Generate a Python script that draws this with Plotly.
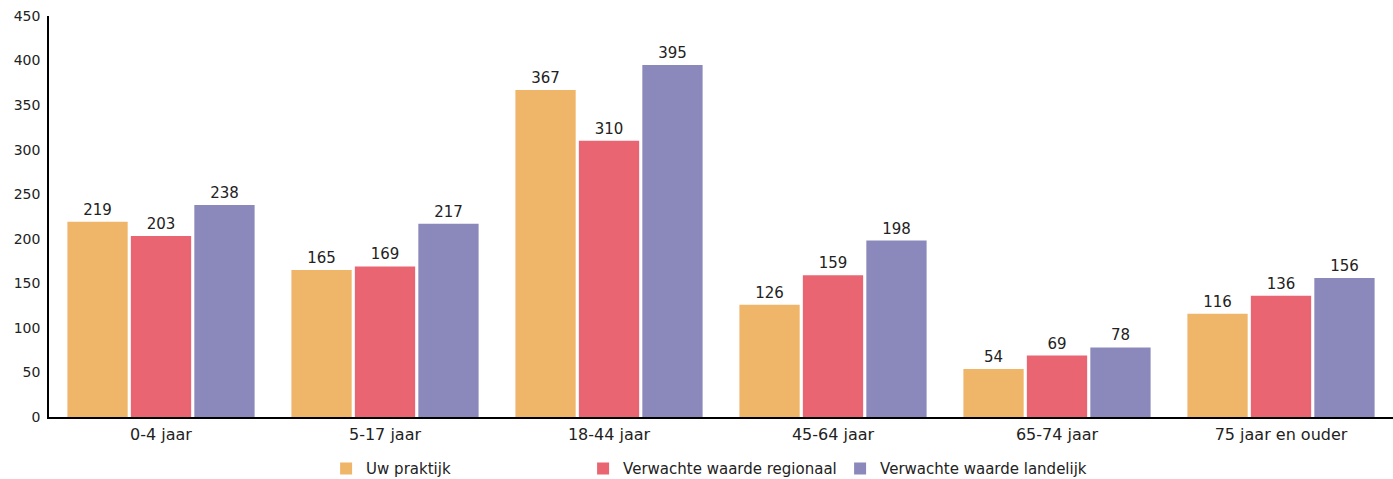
import plotly.graph_objects as go

categories = ["0-4 jaar", "5-17 jaar", "18-44 jaar", "45-64 jaar", "65-74 jaar", "75 jaar en ouder"]
uw_praktijk = [219, 165, 367, 126, 54, 116]
regionaal = [203, 169, 310, 159, 69, 136]
landelijk = [238, 217, 395, 198, 78, 156]
series_names = ["Uw praktijk", "Verwachte waarde regionaal", "Verwachte waarde landelijk"]
colors = ["#EFB66A", "#E96571", "#8B89BC"]

font_family = "'DejaVu Sans', sans-serif"
fig = go.Figure()
for name, vals, col in zip(series_names, [uw_praktijk, regionaal, landelijk], colors):
    fig.add_trace(go.Bar(
        x=categories, y=vals, name=name, marker_color=col, marker_line_width=0,
        text=[str(v) for v in vals], textposition="outside",
        textfont=dict(size=15, color="#222"), cliponaxis=False,
    ))

fig.update_layout(
    width=1393, height=479,
    margin=dict(l=49, r=0, t=16, b=62, autoexpand=False),
    plot_bgcolor="white", paper_bgcolor="white",
    font=dict(family=font_family, size=14, color="#222"),
    barmode="group", bargap=0.15, bargroupgap=0.05,
    showlegend=True,
    legend=dict(orientation="h", x=0.493, xanchor="center", y=-0.088, yanchor="top",
                entrywidth=212, entrywidthmode="pixels", font=dict(size=15),
                itemclick=False),
    xaxis=dict(showline=True, linecolor="black", linewidth=1.5, ticks="",
               tickfont=dict(size=16), automargin=False, ticklabelstandoff=2),
    yaxis=dict(range=[0, 450], dtick=50, showgrid=False, zeroline=False,
               showline=True, linecolor="black", linewidth=1.5, ticks="",
               tickfont=dict(size=14), automargin=False, ticklabelstandoff=4),
)
fig.write_html("out.html", config={"displayModeBar": False},
               post_script="document.body.style.margin='0';document.body.style.overflow='hidden';")
